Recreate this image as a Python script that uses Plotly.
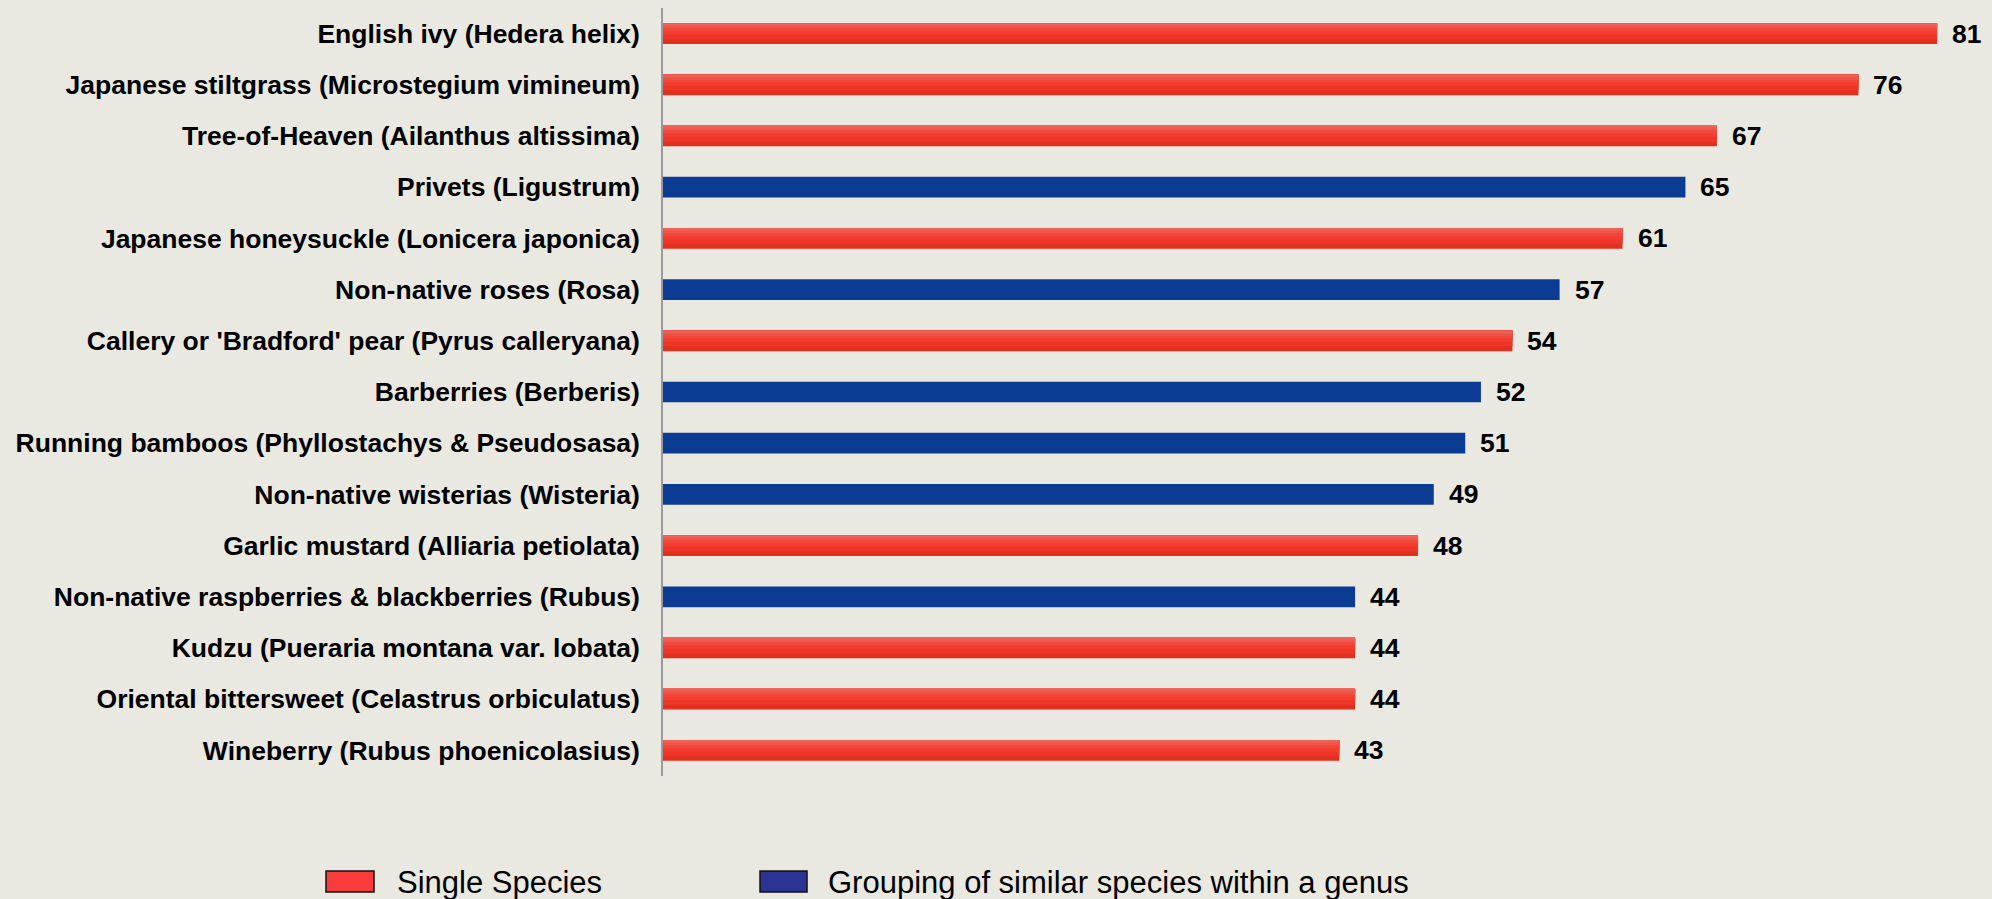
import plotly.graph_objects as go

species = [
    "English ivy (Hedera helix)",
    "Japanese stiltgrass (Microstegium vimineum)",
    "Tree-of-Heaven (Ailanthus altissima)",
    "Privets (Ligustrum)",
    "Japanese honeysuckle (Lonicera japonica)",
    "Non-native roses (Rosa)",
    "Callery or 'Bradford' pear (Pyrus calleryana)",
    "Barberries (Berberis)",
    "Running bamboos (Phyllostachys & Pseudosasa)",
    "Non-native wisterias (Wisteria)",
    "Garlic mustard (Alliaria petiolata)",
    "Non-native raspberries & blackberries (Rubus)",
    "Kudzu (Pueraria montana var. lobata)",
    "Oriental bittersweet (Celastrus orbiculatus)",
    "Wineberry (Rubus phoenicolasius)",
]
counts = [81, 76, 67, 65, 61, 57, 54, 52, 51, 49, 48, 44, 44, 44, 43]
group = ["single", "single", "single", "genus", "single", "genus", "single",
         "genus", "genus", "genus", "single", "genus", "single", "single", "single"]
legend_names = {"single": "Single Species",
                "genus": "Grouping of similar species within a genus"}

W, H = 1992, 899
ML, MR, MT, MB = 663, 0, 8, 123
PX = 15.73  # pixels per unit
xmax = (W - ML - MR) / PX

FONT = "Liberation Sans, Arial, sans-serif"
BAR_W = 0.404

red_y = [s for s, g in zip(species, group) if g == "single"]
red_x = [c for c, g in zip(counts, group) if g == "single"]
blue_y = [s for s, g in zip(species, group) if g == "genus"]
blue_x = [c for c, g in zip(counts, group) if g == "genus"]

fig = go.Figure()

# red bars with stepped vertical gradient (base + lighter layers toward the top)
red_layers = [(1.0, "#e2301f"), (0.78, "#ee3628"), (0.55, "#f23d2f"),
              (0.38, "#f2473a"), (0.24, "#f05348"), (0.12, "#ee6159")]
for frac, col in red_layers:
    fig.add_trace(go.Bar(
        x=red_x, y=red_y, orientation="h",
        width=BAR_W * frac, offset=-BAR_W / 2,
        marker=dict(color=col, line=dict(width=0)),
        showlegend=False, hoverinfo="x+y",
    ))

fig.add_trace(go.Bar(
    x=blue_x, y=blue_y, orientation="h",
    width=BAR_W, offset=-BAR_W / 2,
    marker=dict(color="#0c3b94", line=dict(width=0)),
    showlegend=False, hoverinfo="x+y",
))

# value labels
for s, c in zip(species, counts):
    fig.add_annotation(x=c, y=s, text=str(c), showarrow=False,
                       xanchor="left", yanchor="middle", xshift=13,
                       font=dict(family=FONT, size=26.5, color="#000000", weight="bold"))

# custom legend (wide rectangular swatches)
plot_w = W - ML - MR
plot_h = H - MT - MB
def px2paper_x(px):
    return (px - ML) / plot_w
def px2paper_y(py):
    return (H - MB - py) / plot_h

legend_items = [("single", "#fa3c3c", 326, 374, 395),
                ("genus", "#2b3494", 760, 807, 826)]
for key, col, x0, x1, tx in legend_items:
    fig.add_shape(type="rect", xref="paper", yref="paper",
                  x0=px2paper_x(x0), x1=px2paper_x(x1),
                  y0=px2paper_y(892), y1=px2paper_y(871),
                  fillcolor=col, line=dict(color="#111111", width=1.5))
    fig.add_annotation(xref="paper", yref="paper", x=px2paper_x(tx),
                       y=px2paper_y(882), text=legend_names[key],
                       showarrow=False, xanchor="left", yanchor="middle",
                       font=dict(family=FONT, size=31, color="#000000"))

fig.update_layout(
    width=W, height=H,
    margin=dict(l=ML, r=MR, t=MT, b=MB, pad=0),
    barmode="overlay",
    paper_bgcolor="#e9e9e2",
    plot_bgcolor="#e9e9e2",
    showlegend=False,
    xaxis=dict(range=[0, xmax], visible=False, fixedrange=True),
    yaxis=dict(
        categoryorder="array", categoryarray=species,
        autorange="reversed",
        showline=True, linecolor="#9a9a9a", linewidth=1.5,
        showgrid=False, zeroline=False, ticks="",
        ticklabelstandoff=16,
        tickfont=dict(family=FONT, size=26.5, color="#000000", weight="bold"),
    ),
)

fig.write_html(
    "out.html",
    config={"displayModeBar": False},
    post_script="document.body.style.margin='0';document.body.style.padding='0';"
                "document.body.style.overflow='hidden';"
                "document.documentElement.style.overflow='hidden';",
)
